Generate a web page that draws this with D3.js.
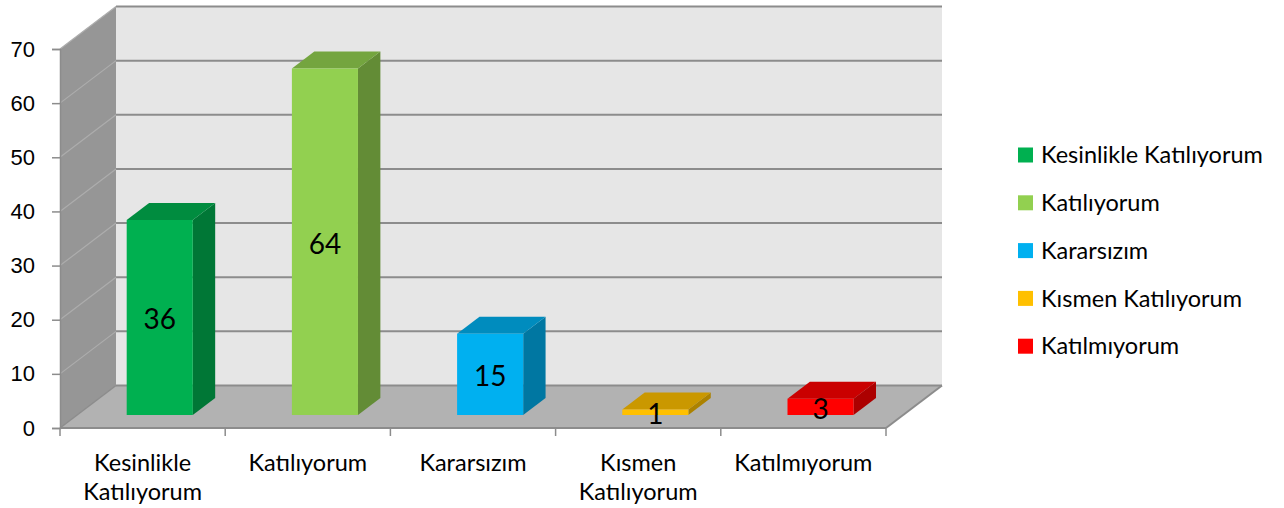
<!DOCTYPE html>
<html lang="tr">

<head>
    <meta charset="UTF-8">
    <title>3D column chart</title>
    <script src="https://d3js.org/d3.v7.min.js" charset="utf-8"></script>
    <style type="text/css">
        body {
            margin: 0;
            background: #fff;
            font-family: Lato, "Open Sans", sans-serif;
        }

        .tickLabel {
            font-size: 22px;
            fill: #000;
        }

        .catLabel,
        .legendLabel {
            font-size: 23.5px;
            fill: #000;
        }

        .valueLabel {
            font-size: 28px;
            fill: #000;
        }
    </style>
</head>

<body>
    <script type="text/javascript">
        // data
        const categories = ["Kesinlikle Katılıyorum", "Katılıyorum", "Kararsızım", "Kısmen Katılıyorum", "Katılmıyorum"];
        const values = [36, 64, 15, 1, 3];
        const colors = ["#00b050", "#92d050", "#00b0f0", "#ffc000", "#ff0000"];
        const yTicks = [0, 10, 20, 30, 40, 50, 60, 70];

        let w = 1284,
            h = 508,
            margin = { top: 49, left: 60, right: 398, bottom: 80 },
            depthX = 56,     // how far the back wall is shifted
            depthY = 42.5,
            barFront = 0.306, // bar depth (0 = front plane, 1 = back wall)
            barBack = 0.706,
            barWidth = 0.4;

        let svg = d3.select("body").append("svg").attr("width", w).attr("height", h);

        const xScale = d3.scaleBand()
            .domain(categories)
            .range([margin.left, w - margin.right])
            .padding(0);

        const yScale = d3.scaleLinear()
            .domain([0, 70])
            .range([h - margin.bottom, margin.top]);

        const x0 = xScale.range()[0], x1 = xScale.range()[1];

        // project a point (screen x on front plane, value, depth) to screen
        function P(x, v, z) {
            return [x + z * depthX, yScale(v) - z * depthY];
        }

        function poly(pts) {
            return pts.map(p => p.join(",")).join(" ");
        }

        const vmax = d3.max(yTicks);

        // walls
        svg.append("polygon") // back wall
            .attr("points", poly([P(x0, vmax, 1), P(x1, vmax, 1), P(x1, 0, 1), P(x0, 0, 1)]))
            .attr("fill", "#e6e6e6");
        svg.append("polygon") // side wall
            .attr("points", poly([P(x0, vmax, 0), P(x0, vmax, 1), P(x0, 0, 1), P(x0, 0, 0)]))
            .attr("fill", "#969696");
        svg.append("polygon") // floor
            .attr("points", poly([P(x0, 0, 0), P(x1, 0, 0), P(x1, 0, 1), P(x0, 0, 1)]))
            .attr("fill", "#b2b2b2");

        // gridlines
        yTicks.forEach(function (t) {
            let a = P(x0, t, 1), b = P(x1, t, 1);
            svg.append("line")
                .attr("x1", a[0]).attr("y1", a[1]).attr("x2", b[0]).attr("y2", b[1])
                .attr("stroke", "#8c8c8c").attr("stroke-width", 2);
            let c = P(x0, t, 0);
            svg.append("line")
                .attr("x1", c[0]).attr("y1", c[1]).attr("x2", a[0]).attr("y2", a[1])
                .attr("stroke", t == 0 ? "#8c8c8c" : "#adadad").attr("stroke-width", t == 0 ? 1.5 : 1.2);
        });

        // floor right edge
        let fr0 = P(x1, 0, 0), fr1 = P(x1, 0, 1);
        svg.append("line")
            .attr("x1", fr0[0]).attr("y1", fr0[1]).attr("x2", fr1[0]).attr("y2", fr1[1])
            .attr("stroke", "#8c8c8c").attr("stroke-width", 2);

        // y axis
        const yAxis = d3.axisLeft(yScale).tickValues(yTicks).tickSize(8).tickPadding(17);
        const yAxisG = svg.append("g")
            .attr("transform", `translate(${x0}, 0)`)
            .call(yAxis);
        yAxisG.select(".domain").attr("stroke", "#8c8c8c").attr("stroke-width", 1.5);
        yAxisG.selectAll(".tick line").attr("stroke", "#8c8c8c").attr("stroke-width", 1.5);
        yAxisG.selectAll(".tick text").attr("class", "tickLabel").attr("font-family", null).attr("font-size", null);

        // x axis line + ticks at category boundaries
        svg.append("line")
            .attr("x1", x0).attr("y1", yScale(0)).attr("x2", x1).attr("y2", yScale(0))
            .attr("stroke", "#8c8c8c").attr("stroke-width", 2);
        let bounds = categories.map(c => xScale(c)).concat([x1]);
        svg.selectAll(".xTick")
            .data(bounds)
            .enter()
            .append("line")
            .attr("class", "xTick")
            .attr("x1", d => d).attr("x2", d => d)
            .attr("y1", yScale(0)).attr("y2", yScale(0) + 8)
            .attr("stroke", "#8c8c8c").attr("stroke-width", 1.5);

        // category labels (wrap if too wide)
        categories.forEach(function (c) {
            let cx = xScale(c) + xScale.bandwidth() / 2;
            let t = svg.append("text")
                .attr("class", "catLabel")
                .attr("text-anchor", "middle")
                .attr("x", cx)
                .attr("y", 471)
                .text(c);
            if (t.node().getComputedTextLength() > xScale.bandwidth() - 10) {
                t.text(null);
                c.split(" ").forEach(function (word, i) {
                    t.append("tspan").attr("x", cx).attr("y", 471 + i * 29).text(word);
                });
            }
        });

        // bars
        categories.forEach(function (c, i) {
            let v = values[i];
            let cx = xScale(c) + xScale.bandwidth() / 2;
            let bw = xScale.bandwidth() * barWidth;
            let l = cx - bw / 2, r = cx + bw / 2;
            let col = d3.color(colors[i]);
            let g = svg.append("g");

            g.append("polygon") // side
                .attr("points", poly([P(r, 0, barFront), P(r, 0, barBack), P(r, v, barBack), P(r, v, barFront)]))
                .attr("fill", col.darker(1.1));
            g.append("polygon") // top
                .attr("points", poly([P(l, v, barFront), P(r, v, barFront), P(r, v, barBack), P(l, v, barBack)]))
                .attr("fill", col.darker(0.65));
            g.append("polygon") // front
                .attr("points", poly([P(l, 0, barFront), P(r, 0, barFront), P(r, v, barFront), P(l, v, barFront)]))
                .attr("fill", col);

            let mid = P(cx, v / 2, barFront);
            g.append("text")
                .attr("class", "valueLabel")
                .attr("text-anchor", "middle")
                .attr("x", mid[0])
                .attr("y", mid[1] + 2)
                .attr("dy", "0.35em")
                .text(v);
        });

        // legend
        const legend = svg.selectAll(".legendItem")
            .data(categories)
            .enter()
            .append("g")
            .attr("class", "legendItem")
            .attr("transform", (d, i) => `translate(1018, ${155 + i * 47.8})`);

        legend.append("rect")
            .attr("x", 0).attr("y", -7.5)
            .attr("width", 15).attr("height", 15)
            .attr("fill", (d, i) => colors[i]);

        legend.append("text")
            .attr("class", "legendLabel")
            .attr("x", 23)
            .attr("dy", "0.35em")
            .text(d => d);
    </script>
</body>

</html>
